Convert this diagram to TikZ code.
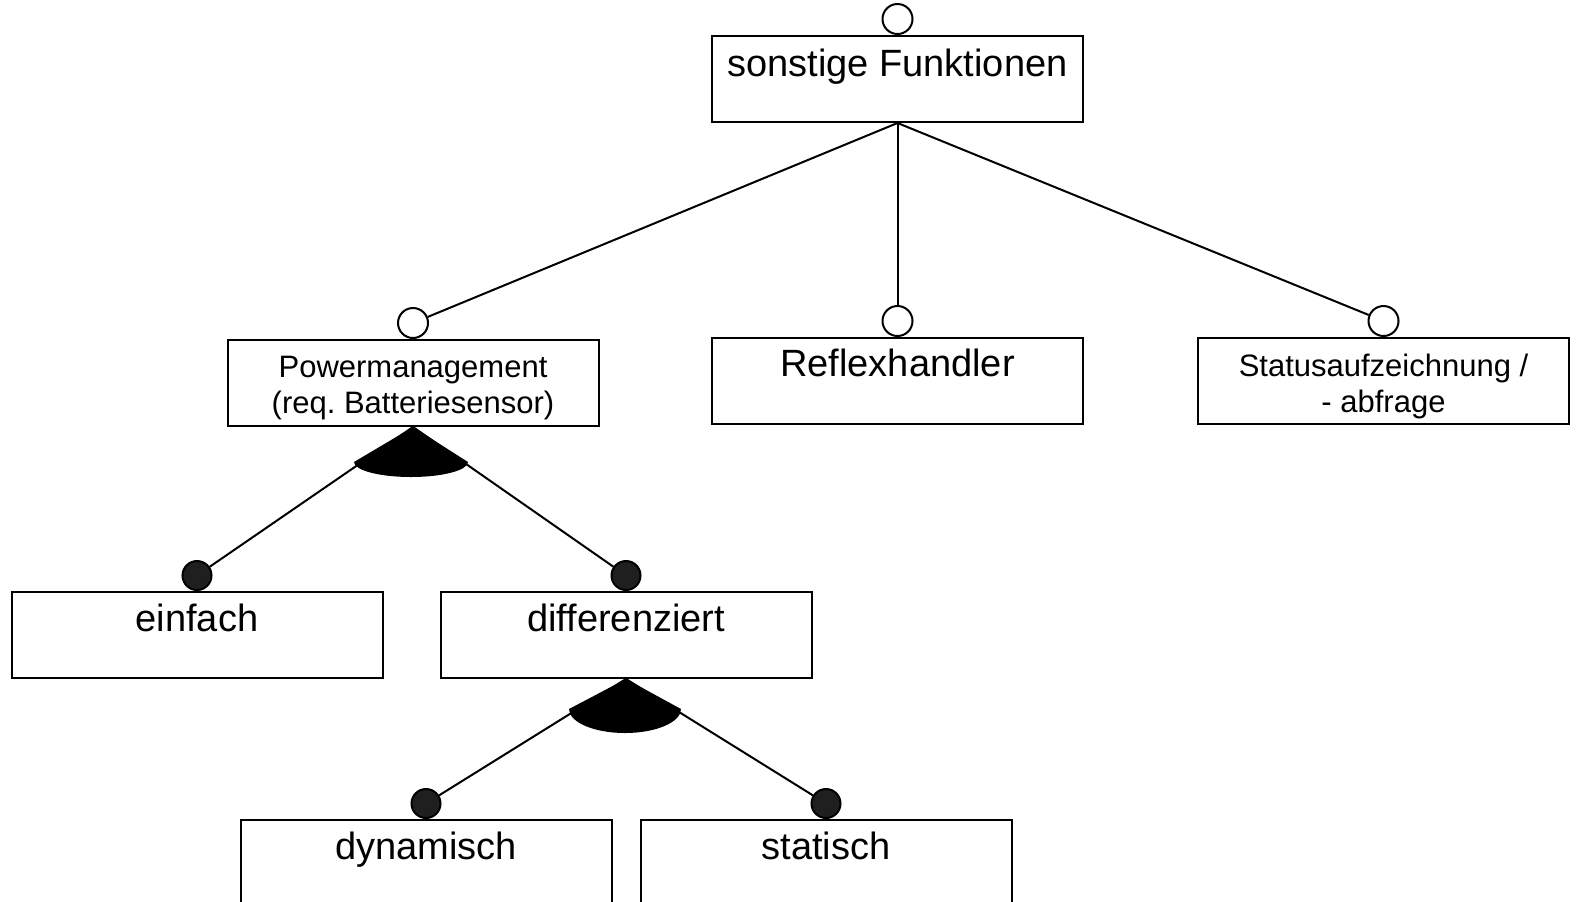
\documentclass[tikz,border=0pt]{standalone}
\usepackage{fontspec}
\setmainfont{Liberation Sans}
\frenchspacing
\begin{document}
\begin{tikzpicture}[x=0.5pt,y=-0.5pt, line width=1pt,
  box/.style={draw, rectangle, minimum width=185.5pt, minimum height=43pt, inner sep=0pt, anchor=north},
  big/.style={font=\fontsize{19}{22}\selectfont, anchor=base, inner sep=0pt},
  small/.style={font=\fontsize{15.5}{18}\selectfont, anchor=base, inner sep=0pt, align=center},
  opt/.style={draw, circle, minimum size=15pt, inner sep=0pt, fill=white, anchor=south},
  mand/.style={draw, circle, minimum size=14.5pt, inner sep=0pt, fill=black!88, anchor=south},
  altcap/.style={fill=black, draw=none}]
\useasboundingbox (0,0) rectangle (1577,901);
\clip (0,0) rectangle (1577,901);

% boxes
\node[box] (top) at (897.5,35) {};
\node[box] (pm) at (413,339) {};
\node[box] (rh) at (897.5,337) {};
\node[box] (st) at (1383.5,337) {};
\node[box] (ei) at (197,591) {};
\node[box] (di) at (626,591) {};
\node[box] (dy) at (426,819) {};
\node[box] (sa) at (826,819) {};

% texts
\node[big] (ttop) at (897.5,76) {sonstige Funktionen};
\node[small] (tpm) at (413,413) {Powermanagement\\(req.\ Batteriesensor)};
\node[big] (trh) at (897.5,376) {Reflexhandler};
\node[small] (tst) at (1383.5,412) {Statusaufzeichnung /\\- abfrage};
\node[big] (tei) at (197,631) {einfach};
\node[big] (tdi) at (626,631) {differenziert};
\node[big] (tdy) at (426,859) {dynamisch};
\node[big] (tsa) at (826,859) {statisch};

% feature markers
\node[opt] (ctop) at (top.north) {};
\node[opt] (cpm) at (pm.north) {};
\node[opt] (crh) at (rh.north) {};
\node[opt] (cst) at (st.north) {};
\node[mand] (cei) at (ei.north) {};
\node[mand] (cdi) at (di.north) {};
\node[mand] (cdy) at (dy.north) {};
\node[mand] (csa) at (sa.north) {};

% connectors
\draw (top.south) -- (cpm);
\draw (top.south) -- (crh);
\draw (top.south) -- (cst);
\draw (pm.south) -- (cei);
\draw (pm.south) -- (cdi);
\draw (di.south) -- (cdy);
\draw (di.south) -- (csa);

% alternative caps
\fill[altcap] (pm.south) -- (354,462) arc[start angle=180, end angle=0, x radius=57, y radius=15] -- cycle;
\fill[altcap] (di.south) -- (569,709) arc[start angle=180, end angle=0, x radius=56, y radius=24] -- cycle;
\end{tikzpicture}
\end{document}
